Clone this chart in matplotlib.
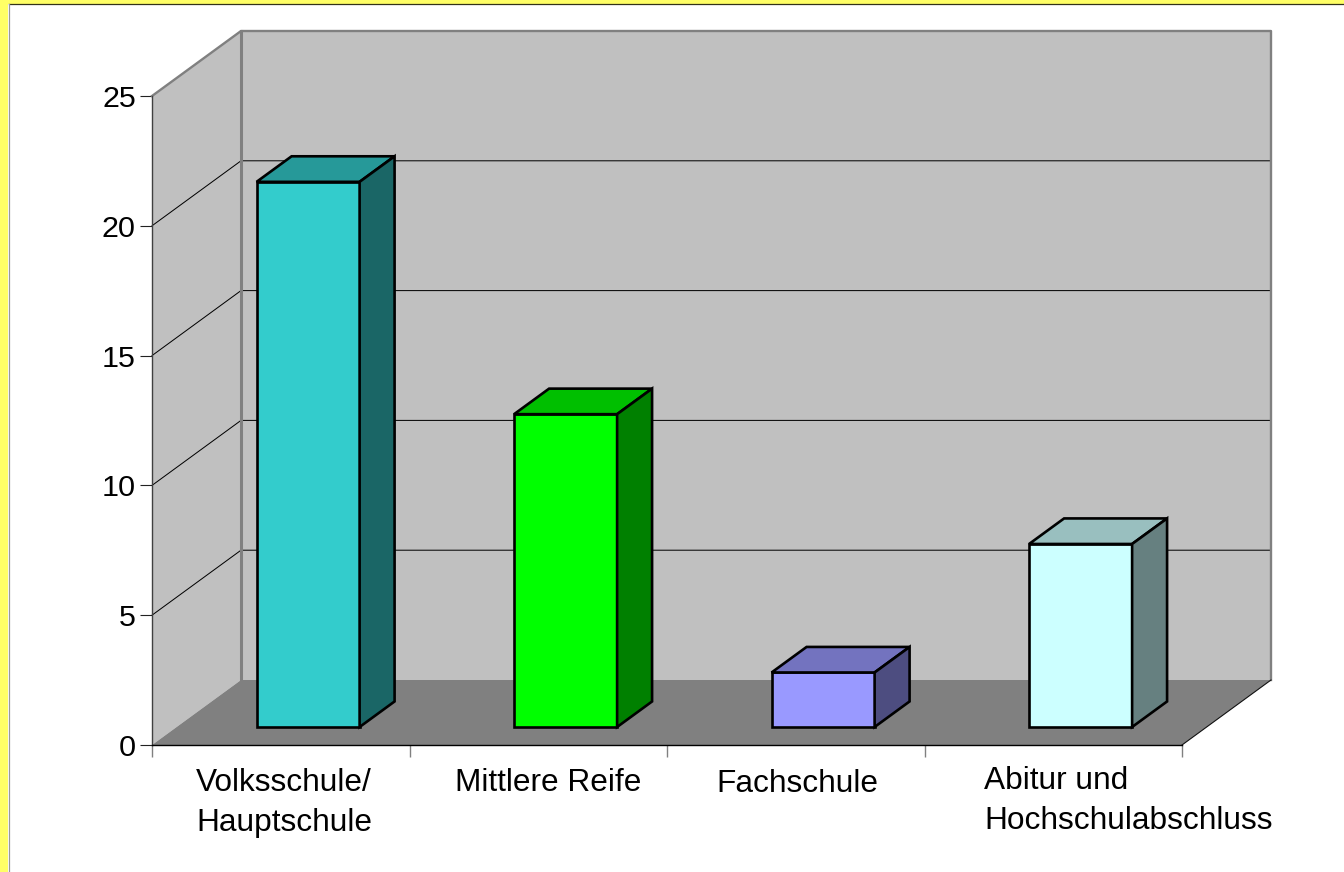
import matplotlib
matplotlib.use("Agg")
import matplotlib.pyplot as plt
from matplotlib.patches import Polygon, Rectangle

categories = ["Volksschule/\nHauptschule", "Mittlere Reife", "Fachschule", "Abitur und\nHochschulabschluss"]
values = [21, 12.05, 2.1, 7.05]
front_colors = ["#33CCCC", "#00FF00", "#9999FF", "#CCFFFF"]
top_colors = ["#269999", "#00BF00", "#7373BF", "#99BFBF"]
side_colors = ["#1A6666", "#008000", "#4D4D80", "#668080"]
y_ticks = [0, 5, 10, 15, 20, 25]

W, H, DPI = 1344, 872, 100
plt.rcParams["font.family"] = ["Liberation Sans", "DejaVu Sans"]
FS = 31.7 * 72 / DPI
TICK_FS = 30.5 * 72 / DPI

fig = plt.figure(figsize=(W / DPI, H / DPI), dpi=DPI, facecolor="#FFFF66")
# white panel
fig.add_artist(Rectangle((8 / W, 0), 1 - 8 / W, 1 - 4.5 / H, transform=fig.transFigure,
                         facecolor="white", edgecolor="none", zorder=-3))
fig.add_artist(plt.Line2D([8.5 / W, 1], [1 - 4.5 / H] * 2, transform=fig.transFigure, color="#33331A", lw=0.9, zorder=-2))
fig.add_artist(plt.Line2D([8.5 / W] * 2, [0, 1 - 4.5 / H], transform=fig.transFigure, color="#999999", lw=0.9, zorder=-2))

L, R, T, B = 152, 1182, 96, 745
ax = fig.add_axes([L / W, 1 - B / H, (R - L) / W, (B - T) / H], facecolor="none")
n = len(categories)
ax.set_xlim(0, n)
ax.set_ylim(0, 25)
DX = 89 / ((R - L) / n)      # full depth in x units
DY = 65 / ((B - T) / 25)     # full depth in y units

def P(x, y, d=0.0):
    return (x + d * DX, y + d * DY)

def poly(pts, **kw):
    ax.add_patch(Polygon(pts, closed=True, clip_on=False, **kw))

WALL, FLOOR, EDGE = "#C0C0C0", "#808080", "#808080"
# back wall and side wall
poly([P(0, 0, 1), P(n, 0, 1), P(n, 25, 1), P(0, 25, 1)], facecolor=WALL, edgecolor="none", zorder=1)
poly([P(0, 0), P(0, 0, 1), P(0, 25, 1), P(0, 25)], facecolor=WALL, edgecolor="none", zorder=1)
# gridlines
for v in y_ticks[1:-1]:
    ax.plot(*zip(P(0, v), P(0, v, 1), P(n, v, 1)), color="black", lw=0.72, clip_on=False, zorder=2)
# wall edges
ax.plot(*zip(P(0, 25), P(0, 25, 1), P(n, 25, 1), P(n, 0, 1)), color=EDGE, lw=1.7, clip_on=False, zorder=3)
ax.plot(*zip(P(0, 0, 1), P(0, 25, 1)), color=EDGE, lw=2.2, clip_on=False, zorder=3)
# floor
poly([P(0, 0), P(n, 0), P(n, 0, 1), P(0, 0, 1)], facecolor=FLOOR, edgecolor="none", zorder=4)
ax.plot(*zip(P(n, 0), P(n, 0, 1)), color="#111111", lw=0.8, clip_on=False, zorder=5)

# bars
BW, D0, D1 = 0.4, 0.277, 0.67
OFF = 0.0105
for i, v in enumerate(values):
    x0 = i + 0.5 - BW / 2 + OFF
    x1 = x0 + BW
    kw = dict(edgecolor="black", lw=1.9, joinstyle="miter", zorder=6)
    poly([P(x0, 0, D0), P(x1, 0, D0), P(x1, v, D0), P(x0, v, D0)], facecolor=front_colors[i], **kw)
    poly([P(x0, v, D0), P(x1, v, D0), P(x1, v, D1), P(x0, v, D1)], facecolor=top_colors[i], **kw)
    poly([P(x1, 0, D0), P(x1, 0, D1), P(x1, v, D1), P(x1, v, D0)], facecolor=side_colors[i], **kw)

# axes
for s in ("top", "right"):
    ax.spines[s].set_visible(False)
ax.spines["left"].set_color("#404040")
ax.spines["left"].set_linewidth(1.0)
ax.spines["bottom"].set_color("black")
ax.spines["bottom"].set_linewidth(1.0)
for s in ax.spines.values():
    s.set_zorder(8)
ax.set_yticks(y_ticks)
ax.set_xticks(range(n + 1))
ax.set_xticklabels([])
ax.tick_params(axis="y", length=12 * 72 / DPI, width=0.8, color="#222222", pad=3, labelsize=TICK_FS, labelcolor="black")
ax.tick_params(axis="x", length=12 * 72 / DPI, width=1.0, color="#808080")

# category labels
label_pos = [(284, 803, "center"), (548, 783, "center"), (797, 784, "center"), (984, 801, "left")]
for text, (px, py, ha) in zip(categories, label_pos):
    fig.text(px / W, 1 - py / H, text, fontsize=FS, ha=ha, va="center", color="black",
             linespacing=1.46, multialignment=ha)

fig.savefig("out.png", dpi=DPI, facecolor=fig.get_facecolor())
